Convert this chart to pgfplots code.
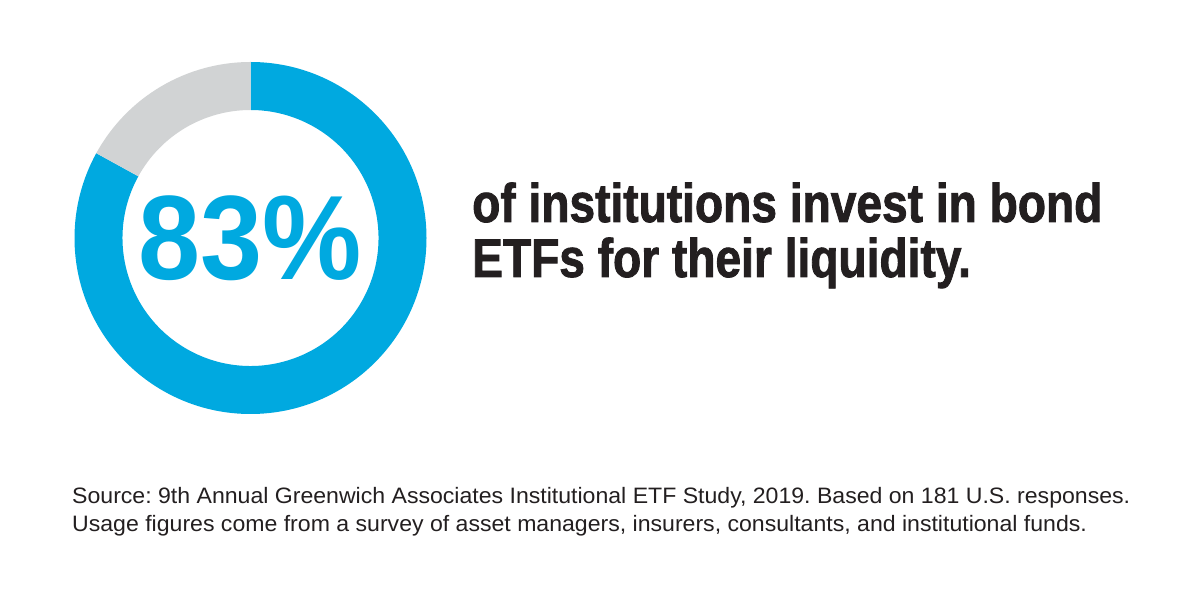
\documentclass[border=0pt]{standalone}
\usepackage{pgfplots}
\pgfplotsset{compat=1.18}
\usepackage{pgfplotstable}
\usepackage{fontspec}
\setmainfont{Liberation Sans}
\newfontfamily\bigfont[FakeStretch=0.93]{Liberation Sans Bold}
\newfontfamily\headfont[FakeStretch=0.846,FakeBold=1.5]{Liberation Sans Bold}
\newfontfamily\notefont[FakeStretch=1.035]{Liberation Sans}
\definecolor{donutblue}{HTML}{00A9E0}
\definecolor{donutgray}{HTML}{D1D3D4}
\definecolor{inkdark}{HTML}{231F20}
\pgfplotstableread{
label value
Yes 83
No 17
}\donutdata
\frenchspacing
\begin{document}
\begin{tikzpicture}
\pgfplotstablegetelem{0}{value}\of\donutdata
\pgfmathsetmacro{\endang}{90-3.6*\pgfplotsretval}
\begin{axis}[
  x=1pt, y=1pt,
  xmin=0, xmax=1188, ymin=0, ymax=594,
  at={(0,0)}, anchor=south west,
  hide axis, clip=false,
]
\fill[white] (axis cs:0,0) rectangle (axis cs:1188,594);
% blue segment (83%)
\fill[donutblue, shift={(axis cs:250.5,356)}]
  (90:176pt) arc[start angle=90, end angle=\endang, radius=176pt]
  -- (\endang:128pt) arc[start angle=\endang, end angle=90, radius=128pt] -- cycle;
% gray segment (17%)
\fill[donutgray, shift={(axis cs:250.5,356)}]
  (\endang:176pt) arc[start angle=\endang, end angle=-270, radius=176pt]
  -- (90:128pt) arc[start angle=-270, end angle=\endang, radius=128pt] -- cycle;
\node[anchor=base, inner sep=0pt, text=donutblue, font=\bigfont\fontsize{120}{120}\selectfont]
  at (axis cs:250.5,314) {83\%};
\node[anchor=base west, inner sep=0pt, text=inkdark, font=\headfont\fontsize{54.5}{54.5}\selectfont]
  at (axis cs:472,372) {of institutions invest in bond};
\node[anchor=base west, inner sep=0pt, text=inkdark, font=\headfont\fontsize{54.5}{54.5}\selectfont]
  at (axis cs:472,317) {ETFs for their liquidity.};
\node[anchor=base west, inner sep=0pt, text=inkdark, font=\notefont\fontsize{22.3}{22.3}\selectfont]
  at (axis cs:72,90) {Source: 9th Annual Greenwich Associates Institutional ETF Study, 2019. Based on 181 U.S. responses.};
\node[anchor=base west, inner sep=0pt, text=inkdark, font=\notefont\fontsize{22.3}{22.3}\selectfont]
  at (axis cs:72,62) {Usage figures come from a survey of asset managers, insurers, consultants, and institutional funds.};
\end{axis}
\end{tikzpicture}
\end{document}
